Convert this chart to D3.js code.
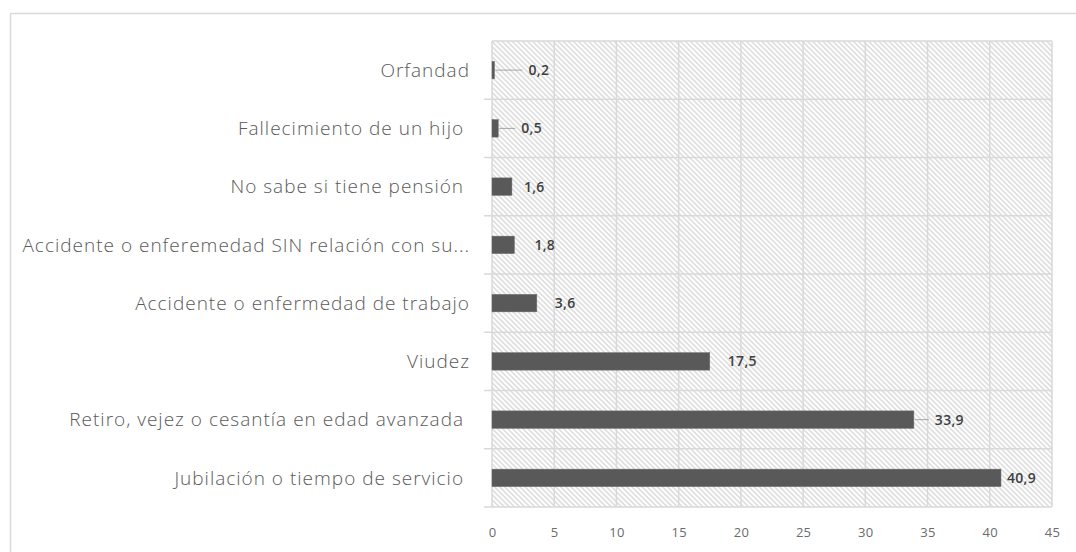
<!DOCTYPE html>
<html>
<head>
<meta charset="utf-8">
<script src="https://cdn.jsdelivr.net/npm/d3@7"></script>
<style>
  html, body { margin: 0; padding: 0; background: #fff; }
  svg { display: block; }
</style>
</head>
<body>
<svg id="chart" width="1076" height="552"></svg>
<script>
const categories = [
  "Orfandad",
  "Fallecimiento de un hijo\u00A0",
  "No sabe si tiene pensión\u00A0",
  "Accidente o enferemedad SIN relación con su...",
  "Accidente o enfermedad de trabajo",
  "Viudez",
  "Retiro, vejez o cesantía en edad avanzada\u00A0",
  "Jubilación o tiempo de servicio\u00A0"
];
const values = [0.2, 0.5, 1.6, 1.8, 3.6, 17.5, 33.9, 40.9];
const valueLabels = ["0,2", "0,5", "1,6", "1,8", "3,6", "17,5", "33,9", "40,9"];
const xTicks = [0, 5, 10, 15, 20, 25, 30, 35, 40, 45];

const svg = d3.select("#chart");
const W = 1076, H = 552;
const m = { left: 492, right: 1052, top: 41, bottom: 507 };

// outer chart border
svg.append("path")
  .attr("d", `M10.5,${H} L10.5,13.5 L${W},13.5`)
  .attr("fill", "none").attr("stroke", "#d9d9d9").attr("stroke-width", 1.5);

// hatch pattern (lines running top-left to bottom-right)
const defs = svg.append("defs");
const P = 3.6;
const pat = defs.append("pattern")
  .attr("id", "hatch").attr("patternUnits", "userSpaceOnUse")
  .attr("width", P).attr("height", P)
  .attr("patternTransform", "rotate(45)");
pat.append("rect").attr("width", P).attr("height", P).attr("fill", "#fff");
pat.append("line").attr("x1", 0).attr("y1", P / 2).attr("x2", P).attr("y2", P / 2)
  .attr("stroke", "#dadada").attr("stroke-width", 1.5);

const x = d3.scaleLinear().domain([0, 45]).range([m.left, m.right]);
const y = d3.scaleBand().domain(categories).range([m.top, m.bottom]).padding(0);

svg.append("rect")
  .attr("x", m.left).attr("y", m.top)
  .attr("width", m.right - m.left).attr("height", m.bottom - m.top)
  .attr("fill", "url(#hatch)");

// vertical gridlines
svg.append("g").selectAll("line").data(xTicks).join("line")
  .attr("x1", d => x(d)).attr("x2", d => x(d))
  .attr("y1", m.top).attr("y2", m.bottom)
  .attr("stroke", "#d9d9d9").attr("stroke-width", 1.5);

// horizontal gridlines at category boundaries (+ ticks extending left)
const bounds = categories.map(c => y(c)).concat([m.bottom]);
svg.append("g").selectAll("line").data(bounds).join("line")
  .attr("x1", (d, i) => i === 0 ? m.left : m.left - 8).attr("x2", m.right)
  .attr("y1", d => d).attr("y2", d => d)
  .attr("stroke", "#d9d9d9").attr("stroke-width", 1.5);

// axis tick labels via d3 axis
const xAxis = d3.axisBottom(x).tickValues(xTicks).tickSize(0).tickPadding(0)
  .tickFormat(d3.format("d"));
const gx = svg.append("g").attr("transform", `translate(0,${m.bottom + 25})`).call(xAxis);
gx.select(".domain").remove();
gx.selectAll("text")
  .attr("fill", "#6b6b6b").attr("font-family", "Open Sans, sans-serif")
  .attr("font-size", 13).attr("dy", "0.35em").attr("y", 0)
  .attr("letter-spacing", 0.3);

// category labels
svg.append("g").selectAll("text").data(categories).join("text")
  .attr("x", 470).attr("y", d => y(d) + y.bandwidth() / 2)
  .attr("dy", "0.35em").attr("text-anchor", "end")
  .attr("fill", "#595959").attr("font-family", "Open Sans, sans-serif")
  .attr("font-size", 19).attr("font-weight", 300).attr("letter-spacing", 1.0)
  .style("white-space", "pre")
  .text(d => d);

// bars
const barH = y.bandwidth() * 0.3;
svg.append("g").selectAll("rect").data(values).join("rect")
  .attr("x", x(0)).attr("y", (d, i) => y(categories[i]) + (y.bandwidth() - barH) / 2)
  .attr("width", d => x(d) - x(0)).attr("height", barH)
  .attr("fill", "#595959").attr("stroke", "#6e6e6e").attr("stroke-width", 0.5);

// data labels (manually nudged like the source)
const labelDx = [34, 23, 12, 20, 18, 18, 21, 6];
const leaders = [0, 1, 6];
svg.append("g").selectAll("line").data(leaders).join("line")
  .attr("x1", i => x(values[i]) + 1).attr("x2", i => x(values[i]) + labelDx[i] - 6)
  .attr("y1", i => y(categories[i]) + y.bandwidth() / 2)
  .attr("y2", i => y(categories[i]) + y.bandwidth() / 2)
  .attr("stroke", "#a6a6a6").attr("stroke-width", 1);

svg.append("g").selectAll("text").data(values).join("text")
  .attr("x", (d, i) => x(d) + labelDx[i])
  .attr("y", (d, i) => y(categories[i]) + y.bandwidth() / 2)
  .attr("dy", "0.35em")
  .attr("fill", "#404040").attr("font-family", "Open Sans, sans-serif")
  .attr("font-size", 14).attr("font-weight", 600).attr("letter-spacing", 0.3)
  .text((d, i) => valueLabels[i]);
</script>
</body>
</html>
